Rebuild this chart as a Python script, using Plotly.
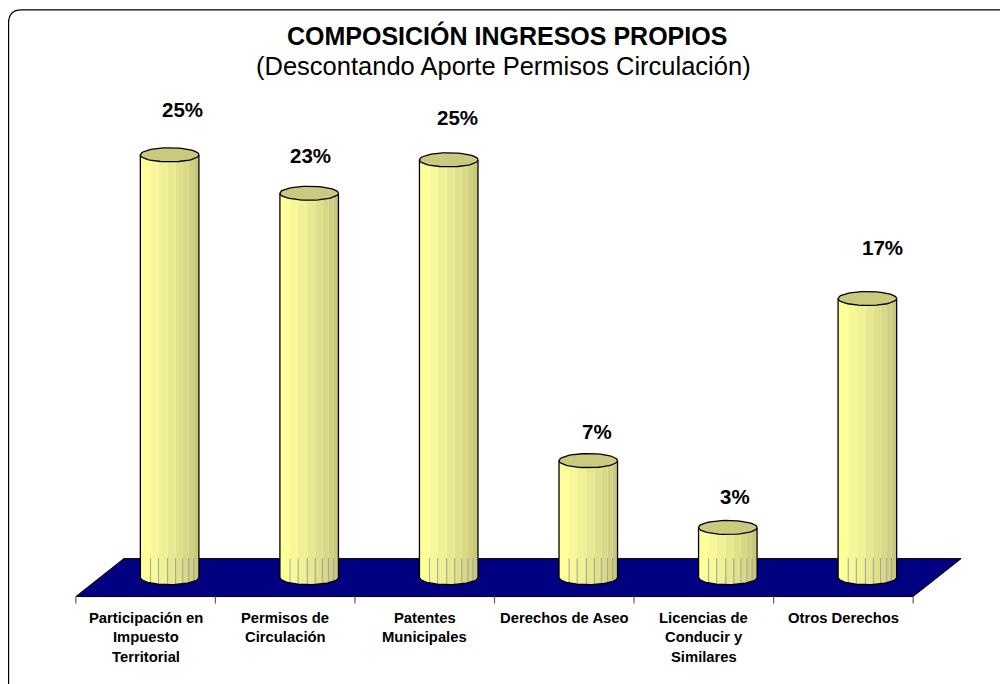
import numpy as np
import plotly.graph_objects as go

# ---------------- data ----------------
categories = [
    "Participación en\nImpuesto\nTerritorial",
    "Permisos de\nCirculación",
    "Patentes\nMunicipales",
    "Derechos de Aseo",
    "Licencias de\nConducir y\nSimilares",
    "Otros Derechos",
]
values = [25.3, 23.0, 25.0, 7.0, 3.0, 16.7]
labels = ["25%", "23%", "25%", "7%", "3%", "17%"]
title_text = "COMPOSICIÓN INGRESOS PROPIOS"
subtitle_text = "(Descontando Aporte Permisos Circulación)"

# ---------------- style / geometry ----------------
FONT = "Liberation Sans, Arial, sans-serif"
X_RANGE = [-0.8, 5.8]
Y_RANGE = [-2.0, 29.0]
FIG_W, FIG_H = 1008, 684
OFF = 8  # page body offset of the figure in the window
PLOT_W = 920.7
PLOT_H = 518.32
M_L = 58.15 - OFF
M_T = 93.12 - OFF
M_R = FIG_W - M_L - PLOT_W
M_B = FIG_H - M_T - PLOT_H
PLOT_BOTTOM_SCREEN = M_T + PLOT_H + OFF

HALF_W = 0.2097          # cylinder half width (x units)
ELL_B = 0.42             # ellipse semi-minor (y units)
DEPTH_X = 0.344          # floor depth shift in x
FLOOR_H = 1.136          # floor half depth in y
BAR_SHIFT = DEPTH_X / 2  # bars sit at mid depth
strip_fracs = [0, 0.172, 0.31, 0.466, 0.603, 0.724, 0.828, 0.914, 1.0]
strip_cols = ["#FFFF99", "#F8F89A", "#F0F095", "#E8E890", "#E0E08B",
              "#D8D886", "#D0D081", "#C8C87C"]
TOP_COL = "#CACA7E"
FLOOR_COL = "#000080"
# label placement offsets (pixels), as laid out in the original chart
label_xshift = [13, 1, 9, 9, 7, 15]
label_yshift = [45, 38, 42, 29, 31, 51]


def px_to_paper_x(px):
    return (px - OFF - M_L) / PLOT_W


def py_to_paper_y(py):
    return (PLOT_BOTTOM_SCREEN - py) / PLOT_H


fig = go.Figure()

n = len(categories)
# ---------------- floor ----------------
x0f = -0.5 - BAR_SHIFT
x1f = n - 0.5 - BAR_SHIFT
fig.add_trace(go.Scatter(
    x=[x0f, x1f, x1f + DEPTH_X, x0f + DEPTH_X, x0f],
    y=[-FLOOR_H, -FLOOR_H, FLOOR_H, FLOOR_H, -FLOOR_H],
    mode="lines", fill="toself", fillcolor=FLOOR_COL,
    line=dict(color="#000000", width=1), hoverinfo="skip", showlegend=False))

# tick marks at category boundaries on the front edge
tx, ty = [], []
for k in range(n + 1):
    xb = x0f + k
    tx += [xb, xb, None]
    ty += [-FLOOR_H, -FLOOR_H - 0.42, None]
fig.add_trace(go.Scatter(x=tx, y=ty, mode="lines",
                         line=dict(color="#606060", width=1.2),
                         hoverinfo="skip", showlegend=False))

# ---------------- cylinders ----------------
for s in range(len(strip_cols)):
    xs, ys = [], []
    u0 = -1 + 2 * strip_fracs[s]
    u1 = -1 + 2 * strip_fracs[s + 1]
    uu = np.linspace(u0, u1, 8)
    for i, v in enumerate(values):
        c = i
        bot = -ELL_B * np.sqrt(np.clip(1 - uu ** 2, 0, 1))
        top = v - ELL_B * np.sqrt(np.clip(1 - uu ** 2, 0, 1))
        xs += list(c + HALF_W * uu) + list(c + HALF_W * uu[::-1]) + [c + HALF_W * uu[0], None]
        ys += list(bot) + list(top[::-1]) + [bot[0], None]
    fig.add_trace(go.Scatter(x=xs, y=ys, mode="lines", fill="toself",
                             fillcolor=strip_cols[s], line=dict(width=0, color=strip_cols[s]),
                             hoverinfo="skip", showlegend=False))

# gray strip lines on the lower (floor) part
gx, gy = [], []
for i, v in enumerate(values):
    for f in strip_fracs[1:-1]:
        u = -1 + 2 * f
        yb = -ELL_B * np.sqrt(1 - u ** 2)
        gx += [i + HALF_W * u, i + HALF_W * u, None]
        gy += [min(FLOOR_H, v), yb, None]
fig.add_trace(go.Scatter(x=gx, y=gy, mode="lines",
                         line=dict(color="#A8A8A0", width=1),
                         hoverinfo="skip", showlegend=False))

# outlines of bodies
ox, oy = [], []
uu = np.linspace(-1, 1, 40)
for i, v in enumerate(values):
    ox += [i - HALF_W] + list(i + HALF_W * uu) + [i + HALF_W, None]
    oy += [v] + list(-ELL_B * np.sqrt(1 - uu ** 2)) + [v, None]
fig.add_trace(go.Scatter(x=ox, y=oy, mode="lines",
                         line=dict(color="#000000", width=1.3),
                         hoverinfo="skip", showlegend=False))

# top ellipses
ex, ey = [], []
th = np.linspace(0, 2 * np.pi, 61)
for i, v in enumerate(values):
    ex += list(i + HALF_W * np.cos(th)) + [None]
    ey += list(v + ELL_B * np.sin(th)) + [None]
fig.add_trace(go.Scatter(x=ex, y=ey, mode="lines", fill="toself",
                         fillcolor=TOP_COL, line=dict(color="#000000", width=1.3),
                         hoverinfo="skip", showlegend=False))

annotations = []
# value labels
for i, (v, lab) in enumerate(zip(values, labels)):
    annotations.append(dict(x=i, y=v, xref="x", yref="y", text=f"<b>{lab}</b>",
                            showarrow=False, xshift=label_xshift[i], yshift=label_yshift[i],
                            font=dict(family=FONT, size=20.5, color="#000000")))
# category labels
for i, cat in enumerate(categories):
    for k, line in enumerate(cat.split("\n")):
        annotations.append(dict(x=i - BAR_SHIFT, y=Y_RANGE[0], xref="x", yref="y",
                                text=f"<b>{line}</b>", showarrow=False,
                                yanchor="middle",
                                yshift=-(618 - PLOT_BOTTOM_SCREEN) - 19.5 * k,
                                font=dict(family=FONT, size=14.8, color="#000000")))
# titles
annotations.append(dict(x=px_to_paper_x(507), y=py_to_paper_y(36), xref="paper", yref="paper",
                        text=f"<b>{title_text}</b>", showarrow=False,
                        xanchor="center", yanchor="middle",
                        font=dict(family=FONT, size=25, color="#000000")))
annotations.append(dict(x=px_to_paper_x(504), y=py_to_paper_y(66), xref="paper", yref="paper",
                        text=subtitle_text, showarrow=False,
                        xanchor="center", yanchor="middle",
                        font=dict(family=FONT, size=25.5, color="#000000")))

# rounded frame (left/top visible)
fl, ft, fr, fb, rr = 8.7, 10, 1010.5, 700, 9
X = px_to_paper_x
Y = py_to_paper_y
frame_path = (f"M {X(fl)},{Y(ft + 13)} Q {X(fl)},{Y(ft)} {X(fl + 13)},{Y(ft)} "
              f"L {X(fr - rr)},{Y(ft)} Q {X(fr)},{Y(ft)} {X(fr)},{Y(ft + rr)} "
              f"L {X(fr)},{Y(fb - rr)} Q {X(fr)},{Y(fb)} {X(fr - rr)},{Y(fb)} "
              f"L {X(fl + 13)},{Y(fb)} Q {X(fl)},{Y(fb)} {X(fl)},{Y(fb - 13)} Z")

fig.update_layout(
    width=FIG_W, height=FIG_H, autosize=False,
    margin=dict(l=M_L, r=M_R, t=M_T, b=M_B, pad=0),
    paper_bgcolor="#FFFFFF", plot_bgcolor="rgba(0,0,0,0)",
    xaxis=dict(range=X_RANGE, visible=False, fixedrange=True),
    yaxis=dict(range=Y_RANGE, visible=False, fixedrange=True),
    annotations=annotations,
    shapes=[dict(type="path", path=frame_path, xref="paper", yref="paper",
                 line=dict(color="#000000", width=1.3), layer="below")],
    showlegend=False,
)

fig.write_html("out.html", config={"displayModeBar": False})
